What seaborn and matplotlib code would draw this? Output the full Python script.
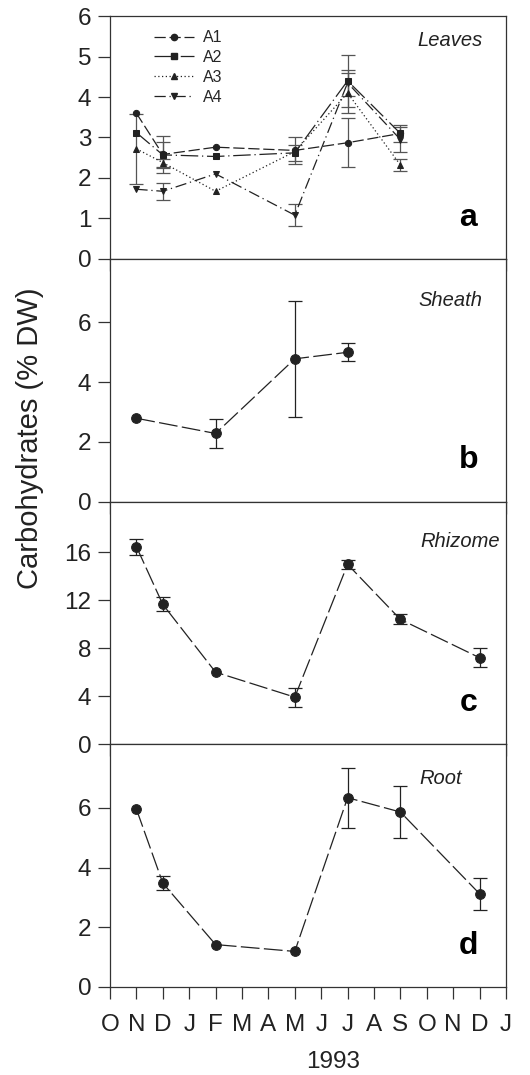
import numpy as np
import pandas as pd
import matplotlib
matplotlib.use('Agg')
import matplotlib.pyplot as plt
from matplotlib.lines import Line2D
import seaborn as sns

# month axis: Oct 1992 (0) ... Jan 1994 (15)
month_labels = ['O', 'N', 'D', 'J', 'F', 'M', 'A', 'M', 'J', 'J', 'A', 'S', 'O', 'N', 'D', 'J']

# (a) leaves, four stations
leaf_x = [1, 2, 4, 7, 9, 11]
leaf_names = ['A1', 'A2', 'A3', 'A4']
leaf_a1 = [3.60, 2.58, 2.76, 2.68, 2.87, 3.10]
leaf_a1_err = [0.0, 0.45, 0.0, 0.33, 0.60, 0.0]
leaf_a2 = [3.12, 2.57, 2.53, 2.62, 4.40, 3.10]
leaf_a2_err = [0.0, 0.33, 0.0, 0.20, 0.65, 0.21]
leaf_a3 = [2.72, 2.38, 1.67, 2.65, 4.10, 2.32]
leaf_a3_err = [0.87, 0.10, 0.0, 0.0, 0.50, 0.15]
leaf_a4 = [1.72, 1.67, 2.10, 1.08, 4.35, 2.95]
leaf_a4_err = [0.0, 0.21, 0.0, 0.27, 0.33, 0.30]

# (b) sheath
sheath_x = [1, 4, 7, 9]
sheath_y = [2.79, 2.28, 4.78, 5.00]
sheath_err = [0.0, 0.50, 1.94, 0.30]

# (c) rhizome
rhizome_x = [1, 2, 4, 7, 9, 11, 14]
rhizome_y = [16.45, 11.64, 6.00, 3.92, 14.97, 10.39, 7.20]
rhizome_err = [0.67, 0.58, 0.0, 0.80, 0.35, 0.42, 0.77]

# (d) root
root_x = [1, 2, 4, 7, 9, 11, 14]
root_y = [5.96, 3.48, 1.42, 1.19, 6.34, 5.86, 3.12]
root_err = [0.0, 0.24, 0.0, 0.0, 1.00, 0.86, 0.53]

sns.set_style('ticks')
plt.rcParams['font.family'] = ['Liberation Sans', 'DejaVu Sans']

ink = '#222222'
fig, axes = plt.subplots(4, 1, figsize=(5.3, 10.75), dpi=100, gridspec_kw=dict(hspace=0))
plt.subplots_adjust(left=0.2075, right=0.9547, top=0.985, bottom=0.0819)


def add_errors(ax, x, y, err, color):
    x = np.array(x); y = np.array(y); err = np.array(err)
    keep = err > 0
    ax.errorbar(x[keep], y[keep], yerr=err[keep], fmt='none', ecolor=color,
                elinewidth=0.9, capsize=5, capthick=0.9, zorder=1)


# panel a
ax = axes[0]
df_a = pd.DataFrame({
    'month': leaf_x * 4,
    'value': leaf_a1 + leaf_a2 + leaf_a3 + leaf_a4,
    'series': np.repeat(leaf_names, len(leaf_x)),
})
markers = {'A1': 'o', 'A2': 's', 'A3': '^', 'A4': 'v'}
dashes = {'A1': (9, 3), 'A2': (14, 3, 1, 3), 'A3': (1, 2), 'A4': (9, 3, 1, 3)}
sns.lineplot(data=df_a, x='month', y='value', style='series', markers=markers, dashes=dashes,
             color=ink, markersize=4.5, markeredgecolor=ink, linewidth=0.9, legend=False, ax=ax)
for vals, errs in [(leaf_a1, leaf_a1_err), (leaf_a2, leaf_a2_err),
                   (leaf_a3, leaf_a3_err), (leaf_a4, leaf_a4_err)]:
    add_errors(ax, leaf_x, vals, errs, '#555555')
handles = [Line2D([], [], color=ink, lw=0.9, marker=markers[n], markersize=4.5,
                  dashes=dashes[n]) for n in leaf_names]
ax.legend(handles, leaf_names, loc='upper left', bbox_to_anchor=(0.09, 0.975), frameon=False,
          fontsize=11.5, handlelength=2.5, handletextpad=0.6, labelspacing=0.3, borderpad=0)
ax.set_ylim(0, 6)
ax.set_yticks(range(0, 7))
ax.text(0.94, 0.90, 'Leaves', transform=ax.transAxes, ha='right', va='center',
        fontsize=14.5, style='italic', color=ink)
ax.text(0.905, 0.17, 'a', transform=ax.transAxes, ha='center', va='center',
        fontsize=23, fontweight='bold', color='black')

# panels b-d
single = [
    (axes[1], sheath_x, sheath_y, sheath_err, (0, 8.13), [0, 2, 4, 6], 'Sheath', 0.94, 0.83, 'b'),
    (axes[2], rhizome_x, rhizome_y, rhizome_err, (0, 20.2), [0, 4, 8, 12, 16], 'Rhizome', 0.985, 0.835, 'c'),
    (axes[3], root_x, root_y, root_err, (0, 8.13), [0, 2, 4, 6], 'Root', 0.89, 0.86, 'd'),
]
for ax, x, y, err, ylim, yticks, name, tx, ty, letter in single:
    sns.lineplot(x=x, y=y, ax=ax, color=ink, marker='o', markersize=7, markeredgecolor=ink,
                 linewidth=0.9, linestyle=(0, (15, 3.5)), legend=False)
    add_errors(ax, x, y, err, ink)
    ax.set_ylim(*ylim)
    ax.set_yticks(yticks)
    ax.text(tx, ty, name, transform=ax.transAxes, ha='right', va='center',
            fontsize=14.5, style='italic', color=ink)
    ax.text(0.905, 0.17, letter, transform=ax.transAxes, ha='center', va='center',
            fontsize=23, fontweight='bold', color='black')

for i, ax in enumerate(axes):
    ax.set_xlim(0, 15)
    ax.set_xticks(range(16))
    ax.set_xlabel('')
    ax.set_ylabel('')
    for s in ax.spines.values():
        s.set_color('#333333')
        s.set_linewidth(0.9)
    ax.tick_params(axis='both', direction='out', length=8.5, width=0.9, color='#333333',
                   labelsize=17.5, labelcolor=ink)
    ax.tick_params(axis='y', pad=5)
    ax.tick_params(axis='x', pad=11)
    if i < 3:
        ax.set_xticklabels([])
    else:
        ax.set_xticklabels(month_labels)

fig.text(0.057, 0.592, 'Carbohydrates (% DW)', rotation=90, ha='center', va='center',
         fontsize=21, color=ink)
fig.text(0.628, 0.012, '1993', ha='center', va='center', fontsize=17.5, color=ink)

fig.savefig('out.png', dpi=100)
